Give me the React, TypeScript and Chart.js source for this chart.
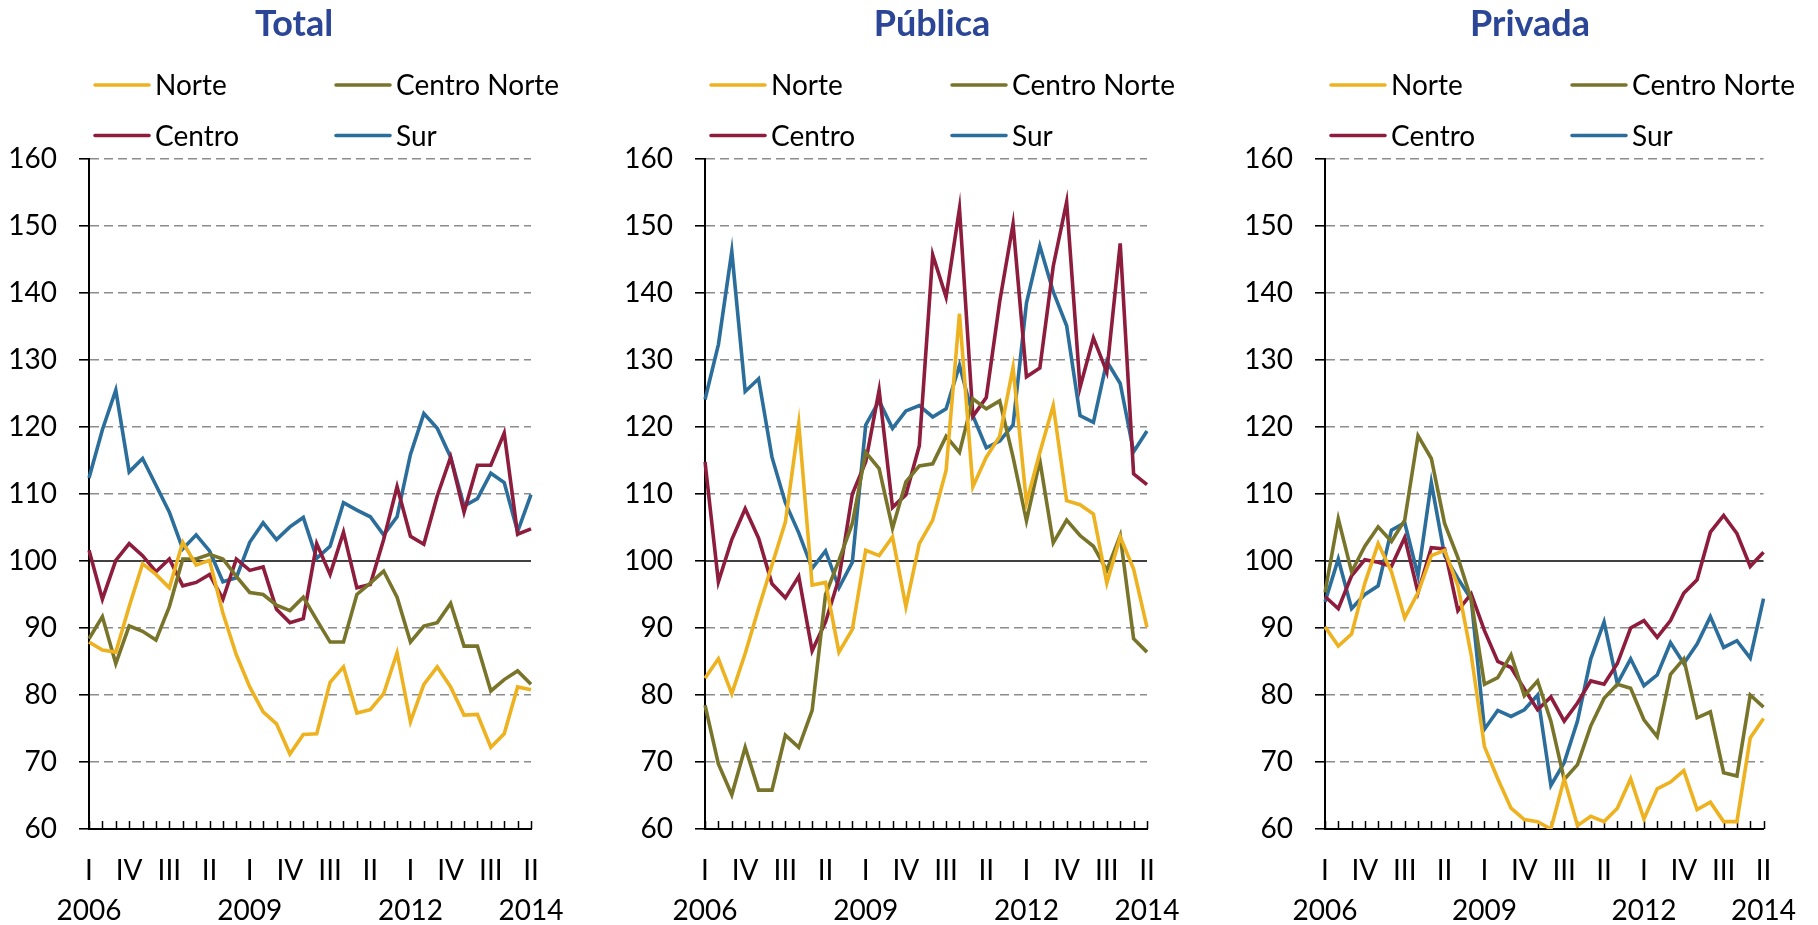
import React, { useEffect, useRef } from 'react';
import { Chart, registerables } from 'chart.js';

Chart.register(...registerables);

// ---------- data ----------
const years = [2006, 2007, 2008, 2009, 2010, 2011, 2012, 2013, 2014];
const quarterNames = ['I', 'II', 'III', 'IV'];
const lastYearQuarters = 2; // 2014: I, II
const yearTickLabels = ['2006', '2009', '2012', '2014'];

const seriesNames = ['Norte', 'Centro Norte', 'Centro', 'Sur'];
const seriesColors = ['#EEB220', '#78742A', '#8E1C3D', '#2B6E9B'];

const totalNorte = [87.9, 86.7, 86.4, 93.2, 99.6, 98.0, 96.0, 102.8, 99.4, 100.1, 92.2, 86.0, 81.2, 77.5, 75.7, 71.2, 74.1, 74.2, 81.9, 84.2, 77.3, 77.8, 80.2, 86.3, 76.0, 81.6, 84.2, 81.2, 77.0, 77.1, 72.2, 74.2, 81.2, 80.8];
const totalCentroNorte = [88.4, 91.7, 84.7, 90.3, 89.5, 88.2, 93.2, 100.3, 100.3, 101.0, 100.3, 97.7, 95.3, 95.0, 93.4, 92.6, 94.6, 91.2, 87.9, 87.9, 95.0, 96.7, 98.5, 94.6, 87.9, 90.3, 90.8, 93.7, 87.3, 87.3, 80.6, 82.3, 83.6, 81.6];
const totalCentro = [101.6, 94.3, 100.1, 102.6, 100.8, 98.4, 100.3, 96.3, 96.8, 98.0, 94.3, 100.3, 98.6, 99.1, 92.8, 90.8, 91.4, 102.6, 98.0, 104.3, 96.0, 96.5, 103.2, 111.1, 103.7, 102.5, 109.7, 115.5, 107.3, 114.3, 114.3, 119.1, 104.0, 104.8];
const totalSur = [112.4, 119.6, 125.5, 113.3, 115.3, 111.3, 107.3, 101.8, 103.9, 101.5, 96.9, 97.5, 102.8, 105.7, 103.2, 105.1, 106.5, 100.4, 102.2, 108.7, 107.6, 106.6, 103.9, 106.6, 115.9, 122.0, 119.8, 115.5, 108.2, 109.3, 113.1, 111.7, 104.4, 109.9];

const publicaNorte = [82.5, 85.4, 80.2, 86.2, 92.9, 99.4, 105.8, 120.5, 96.4, 96.8, 86.4, 89.8, 101.6, 100.8, 103.6, 93.2, 102.6, 106.1, 113.5, 136.9, 111.1, 115.5, 118.6, 128.9, 108.7, 116.2, 123.2, 109.0, 108.4, 107.0, 96.7, 103.6, 98.8, 90.1];
const publicaCentroNorte = [78.5, 69.7, 65.1, 72.2, 65.8, 65.8, 74.0, 72.2, 77.7, 95.0, 100.1, 105.6, 116.2, 113.8, 104.9, 111.8, 114.2, 114.5, 118.6, 116.2, 124.2, 122.7, 123.9, 115.5, 106.0, 115.0, 102.7, 106.1, 103.8, 102.2, 98.6, 103.8, 88.4, 86.4];
const publicaCentro = [114.8, 96.9, 103.2, 107.8, 103.4, 96.6, 94.5, 97.7, 86.6, 90.9, 97.4, 110.0, 114.8, 125.5, 108.0, 109.9, 117.2, 145.7, 139.4, 152.6, 121.6, 124.4, 138.7, 150.3, 127.5, 128.8, 144.0, 153.6, 125.9, 133.3, 128.2, 147.4, 113.0, 111.4];
const publicaSur = [124.1, 132.3, 146.2, 125.3, 127.2, 115.5, 108.7, 104.2, 98.9, 101.5, 96.0, 99.8, 120.3, 123.9, 119.8, 122.4, 123.2, 121.5, 122.7, 129.2, 121.7, 116.9, 117.9, 120.3, 138.5, 147.0, 140.2, 135.1, 121.7, 120.7, 129.8, 126.5, 116.3, 119.4];

const privadaNorte = [90.2, 87.3, 89.1, 96.7, 102.6, 98.4, 91.5, 95.3, 100.8, 101.6, 96.3, 86.0, 72.3, 67.5, 63.1, 61.4, 61.1, 60.0, 67.5, 60.5, 61.9, 61.1, 63.1, 67.5, 61.5, 66.0, 67.0, 68.7, 62.9, 64.0, 61.1, 61.1, 73.6, 76.5];
const privadaCentroNorte = [95.3, 106.3, 98.4, 102.2, 105.1, 102.9, 106.1, 118.7, 115.3, 105.6, 100.5, 94.3, 81.6, 82.6, 86.0, 79.9, 82.1, 76.1, 67.4, 69.6, 75.4, 79.5, 81.6, 81.0, 76.3, 73.8, 83.1, 85.4, 76.6, 77.5, 68.4, 67.9, 80.0, 78.2];
const privadaCentro = [94.7, 92.9, 97.8, 100.2, 99.8, 99.2, 103.5, 95.3, 102.0, 101.8, 92.6, 95.1, 89.6, 85.0, 84.1, 80.9, 77.8, 79.7, 76.1, 78.8, 82.1, 81.6, 84.7, 90.0, 91.1, 88.6, 91.1, 95.2, 97.2, 104.3, 106.8, 104.1, 99.2, 101.3];
const privadaSur = [93.9, 100.3, 92.9, 95.0, 96.3, 104.6, 105.7, 97.8, 111.7, 100.8, 97.4, 94.3, 74.9, 77.7, 76.8, 77.8, 80.0, 66.5, 69.9, 76.1, 85.4, 90.9, 81.7, 85.4, 81.4, 83.0, 87.8, 84.7, 87.6, 91.7, 87.1, 88.1, 85.5, 94.4];

const yMin = 60;
const yMax = 160;
const yStep = 10;
const referenceValue = 100;

// categories: every quarter from 2006-I to 2014-II
const categories: { year: number; q: string }[] = [];
years.forEach((yr, yi) => {
  const nq = yi === years.length - 1 ? lastYearQuarters : 4;
  for (let q = 0; q < nq; q++) categories.push({ year: yr, q: quarterNames[q] });
});
const categoryLabels = categories.map((c) => `${c.year}-${c.q}`);

// ---------- layout ----------
const W = 1818;
const H = 925;
const FONT = 'Lato';

interface Panel {
  title: string;
  left: number;
  width: number;
  axisWidth: number;
  padRight: number;
  titleX: number;
  series: number[][];
}

const panels: Panel[] = [
  { title: 'Total', left: 0, width: 606, axisWidth: 89, padRight: 75, titleX: 294, series: [totalNorte, totalCentroNorte, totalCentro, totalSur] },
  { title: 'Pública', left: 606, width: 606, axisWidth: 99, padRight: 65, titleX: 326, series: [publicaNorte, publicaCentroNorte, publicaCentro, publicaSur] },
  { title: 'Privada', left: 1212, width: 606, axisWidth: 113, padRight: 51, titleX: 318, series: [privadaNorte, privadaCentroNorte, privadaCentro, privadaSur] },
];

const decorPlugin = {
  id: 'decor',
  beforeDatasetsDraw(chart: any) {
    const { ctx, chartArea, scales } = chart;
    ctx.save();
    // reference line at 100
    const y = scales.y.getPixelForValue(referenceValue);
    ctx.strokeStyle = '#000';
    ctx.lineWidth = 1.5;
    ctx.beginPath();
    ctx.moveTo(chartArea.left, y);
    ctx.lineTo(chartArea.right, y);
    ctx.stroke();
    // inside tick marks on category axis
    ctx.lineWidth = 1.5;
    ctx.beginPath();
    for (let i = 0; i < categoryLabels.length; i++) {
      const x = Math.round(scales.x.getPixelForValue(i)) + 0.5;
      ctx.moveTo(x, chartArea.bottom);
      ctx.lineTo(x, chartArea.bottom - 8);
    }
    ctx.stroke();
    ctx.restore();
  },
  afterDraw(chart: any, _args: any, opts: any) {
    const { ctx, chartArea } = chart;
    ctx.save();
    // title
    ctx.font = `bold 36px ${FONT}`;
    ctx.fillStyle = '#2B4597';
    ctx.textAlign = 'center';
    ctx.textBaseline = 'middle';
    ctx.fillText(opts.title, opts.titleX, 24);
    // legend 2x2
    ctx.font = `28px ${FONT}`;
    ctx.textAlign = 'left';
    ctx.fillStyle = '#000';
    const colX = [6, 247];
    const rowY = [85, 135.5];
    seriesNames.forEach((name, i) => {
      const x0 = chartArea.left + colX[i % 2];
      const yy = rowY[Math.floor(i / 2)];
      ctx.strokeStyle = seriesColors[i];
      ctx.lineWidth = 3.5;
      ctx.lineCap = 'round';
      ctx.beginPath();
      ctx.moveTo(x0, yy);
      ctx.lineTo(x0 + 54, yy);
      ctx.stroke();
      ctx.fillText(name, x0 + 60, yy + 1);
    });
    ctx.restore();
  },
};

function tickLabel(index: number): string[] {
  const c = categories[index];
  const roman = index % 3 === 0 ? c.q : '';
  const isYearTick =
    (index === 0 || index === categories.length - 1 || (index % 12 === 0)) &&
    yearTickLabels.includes(String(c.year));
  return [roman, isYearTick ? String(c.year) : ''];
}

function PanelChart({ panel }: { panel: Panel }) {
  const ref = useRef<HTMLCanvasElement>(null);
  useEffect(() => {
    let chart: Chart | null = null;
    let cancelled = false;
    const build = () => {
      if (cancelled || !ref.current) return;
      chart = new Chart(ref.current, {
        type: 'line',
        data: {
          labels: categoryLabels,
          datasets: panel.series.map((vals, i) => ({
            label: seriesNames[i],
            data: vals,
            borderColor: seriesColors[i],
            backgroundColor: seriesColors[i],
            borderWidth: 3.6,
            pointRadius: 0,
            tension: 0,
            fill: false,
            borderJoinStyle: 'miter' as const,
          })),
        },
        options: {
          responsive: false,
          animation: false,
          events: [],
          layout: { padding: { left: 0, right: panel.padRight, top: 159, bottom: 0 } },
          plugins: {
            legend: { display: false },
            title: { display: false },
            tooltip: { enabled: false },
            decor: { title: panel.title, titleX: panel.titleX },
          } as any,
          scales: {
            x: {
              type: 'category',
              offset: false,
              grid: { display: false, drawTicks: false },
              border: { display: true, color: '#000', width: 2 },
              ticks: {
                autoSkip: false,
                maxRotation: 0,
                minRotation: 0,
                padding: 22,
                color: '#000',
                font: { family: FONT, size: 28, lineHeight: 40 / 28 },
                callback: (_v: any, index: number) => tickLabel(index),
              },
              afterFit: (scale: any) => {
                scale.height = 96;
              },
            },
            y: {
              min: yMin,
              max: yMax,
              grid: {
                color: (ctx: any) =>
                  ctx.tick && (ctx.tick.value === referenceValue || ctx.tick.value === yMin)
                    ? 'rgba(0,0,0,0)'
                    : '#8C8C8C',
                lineWidth: 1.6,
                tickColor: '#000',
                tickWidth: 1.6,
                tickLength: 10,
                drawTicks: true,
              },
              border: { display: true, color: '#000', width: 2, dash: [9, 5] },
              ticks: {
                stepSize: yStep,
                padding: 22,
                color: '#000',
                font: { family: FONT, size: 28 },
              },
              afterFit: (scale: any) => {
                scale.width = panel.axisWidth;
              },
            },
          },
        },
        plugins: [decorPlugin],
      } as any);
    };
    const fontsReady = (document as any).fonts
      ? Promise.all([
          (document as any).fonts.load(`28px ${FONT}`),
          (document as any).fonts.load(`bold 36px ${FONT}`),
        ]).catch(() => null)
      : Promise.resolve(null);
    fontsReady.then(build);
    return () => {
      cancelled = true;
      if (chart) chart.destroy();
    };
  }, [panel]);
  return (
    <canvas
      ref={ref}
      width={panel.width}
      height={H}
      style={{ position: 'absolute', left: panel.left, top: 0, width: panel.width, height: H }}
    />
  );
}

export default function App() {
  return (
    <div style={{ position: 'absolute', left: 0, top: 0, width: W, height: H, background: '#fff', overflow: 'hidden' }}>
      {panels.map((p) => (
        <PanelChart key={p.title} panel={p} />
      ))}
    </div>
  );
}
